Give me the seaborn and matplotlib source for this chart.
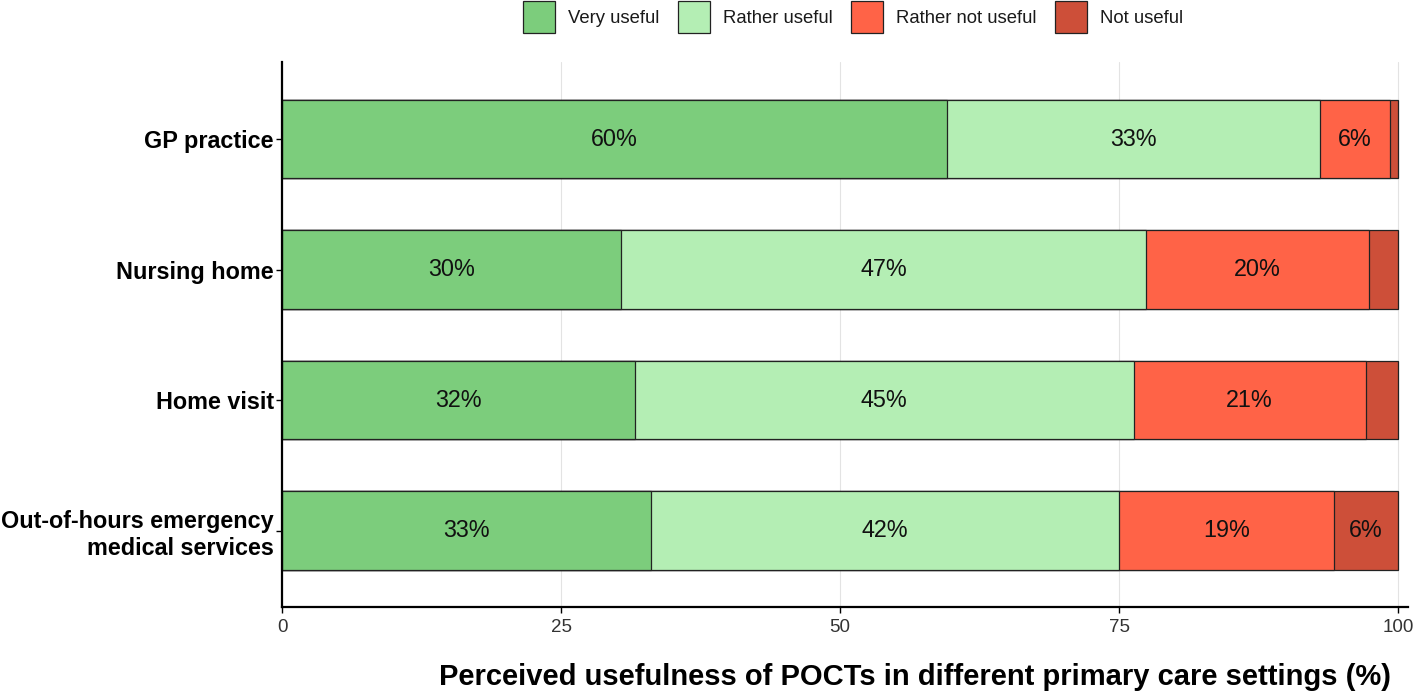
import numpy as np
import pandas as pd
import matplotlib
matplotlib.use("Agg")
import matplotlib.pyplot as plt
import seaborn as sns
from matplotlib.patches import Patch

categories = ["GP practice", "Nursing home", "Home visit",
              "Out-of-hours emergency\nmedical services"]
levels = ["Very useful", "Rather useful", "Rather not useful", "Not useful"]
very_useful = [59.6, 30.4, 31.6, 33.1]
rather_useful = [33.4, 47.0, 44.7, 41.9]
rather_not_useful = [6.3, 20.0, 20.8, 19.3]
not_useful = [0.7, 2.6, 2.9, 5.7]
colors = ["#7ccd7c", "#b4eeb4", "#ff6347", "#cd4f39"]
x_ticks = [0, 25, 50, 75, 100]

sns.set_theme(style="white")
plt.rcParams["font.family"] = ["Liberation Sans", "DejaVu Sans"]

fig = plt.figure(figsize=(14.16, 6.96), dpi=100)
ax = fig.add_axes([0.1992, 0.1279, 0.7952, 0.7830])

series = [very_useful, rather_useful, rather_not_useful, not_useful]
vals = np.array(series)
cum = np.cumsum(vals, axis=0)
starts = cum - vals

for g in x_ticks:
    ax.axvline(g, color="#e3e3e3", lw=0.8, zorder=0)

# draw from largest cumulative to smallest
for i in range(len(levels) - 1, -1, -1):
    df = pd.DataFrame({"cat": categories, "val": cum[i]})
    sns.barplot(data=df, x="val", y="cat", orient="h", color=colors[i],
                saturation=1, edgecolor="#222222", linewidth=0.9,
                width=0.6, ax=ax, zorder=2)

for i in range(len(levels)):
    for j in range(len(categories)):
        v = vals[i, j]
        if v >= 5:
            ax.text(starts[i, j] + v / 2, j, f"{int(round(v))}%",
                    ha="center", va="center", fontsize=16.8, color="#111111",
                    zorder=5)

ax.set_xlim(0, 100.9)
ax.set_ylim(3.585, -0.59)
ax.set_xticks(x_ticks)
ax.set_xticklabels([str(t) for t in x_ticks], fontsize=13.5, color="#333333")
ax.tick_params(axis="y", labelsize=16.8, length=4, color="black", pad=2,
               left=True, width=1)
ax.tick_params(axis="x", length=4, color="black", pad=5, bottom=True, width=1)
for lab in ax.get_yticklabels():
    lab.set_fontweight("bold")
    lab.set_color("black")
    lab.set_multialignment("right")
ax.set_ylabel("")
ax.set_xlabel("Perceived usefulness of POCTs in different primary care settings (%)",
              fontsize=21, fontweight="bold", color="black")
ax.xaxis.set_label_coords(0.562, -0.102)
for s in ["top", "right"]:
    ax.spines[s].set_visible(False)
for s in ["left", "bottom"]:
    ax.spines[s].set_color("black")
    ax.spines[s].set_linewidth(1.6)

handles = [Patch(facecolor=c, edgecolor="#222222", linewidth=0.9, label=l)
           for c, l in zip(colors, levels)]
fig.legend(handles=handles, loc="center", bbox_to_anchor=(0.6025, 0.9756),
           ncol=4, frameon=False, fontsize=13.3, handlelength=1.73,
           handleheight=2.3, handletextpad=0.7, columnspacing=1.0,
           labelcolor="#1a1a1a")

fig.savefig("out.png", dpi=100)
